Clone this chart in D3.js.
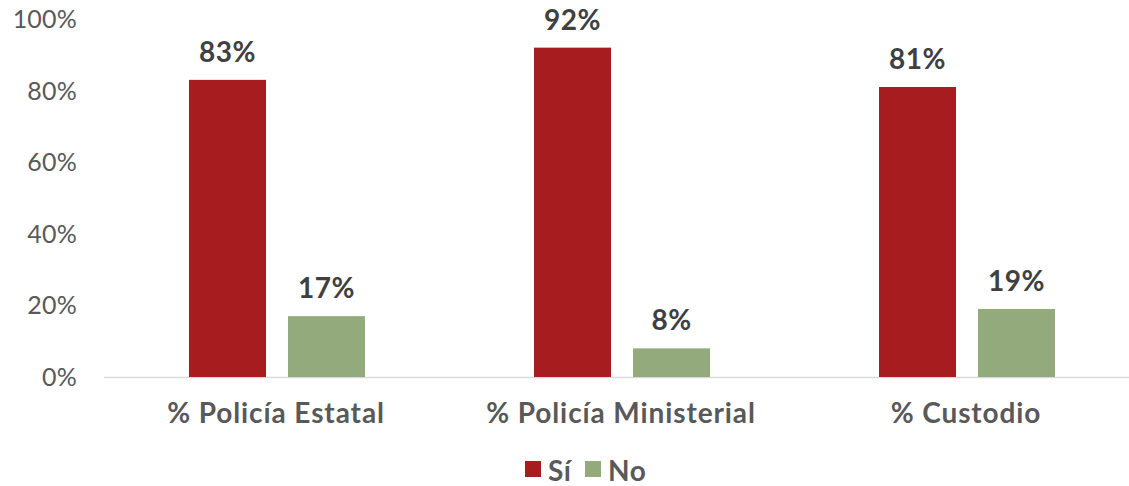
<!DOCTYPE html>
<html><head><meta charset="utf-8">
<script src="https://cdn.jsdelivr.net/npm/d3@7"></script>
<style>body{margin:0;background:#fff}svg{display:block}text{font-family:Lato,"DejaVu Sans",sans-serif}</style>
</head><body><svg id="c" width="1129" height="486"></svg>
<script>
const categories = ["% Policía Estatal", "% Policía Ministerial", "% Custodio"];
const seriesNames = ["Sí", "No"];
const siValues = [83, 92, 81];
const noValues = [17, 8, 19];
const yTicks = [0, 20, 40, 60, 80, 100];
const colors = ["#A61C1F", "#93AA7D"];

const svg = d3.select("#c");
const x0 = d3.scaleBand().domain(categories).range([103.5, 1138.5]).paddingInner(0).paddingOuter(0);
const y = d3.scaleLinear().domain([0, 100]).range([377, 19]);
const x1 = d3.scaleBand().domain(seriesNames).range([85.5, 85.5 + 176]).paddingInner(22 / 99).paddingOuter(0);

const data = categories.map((c, i) => ({cat: c, vals: [siValues[i], noValues[i]]}));

// y tick labels
svg.append("g").selectAll("text").data(yTicks).join("text")
  .attr("x", 77).attr("y", d => y(d)).attr("dy", "0.36em")
  .attr("text-anchor", "end").attr("font-size", 25).attr("font-weight", 400).attr("fill", "#595959")
  .attr("letter-spacing", 0.2)
  .text(d => d + "%");

// axis line
svg.append("line").attr("x1", 104).attr("x2", 1129).attr("y1", y(0) + 0.5).attr("y2", y(0) + 0.5)
  .attr("stroke", "#D9D9D9").attr("stroke-width", 1.5);

const g = svg.append("g").selectAll("g").data(data).join("g")
  .attr("transform", d => `translate(${x0(d.cat)},0)`);

g.selectAll("rect").data(d => d.vals.map((v, j) => ({s: seriesNames[j], v, j}))).join("rect")
  .attr("x", d => x1(d.s)).attr("width", x1.bandwidth())
  .attr("y", d => y(d.v)).attr("height", d => y(0) - y(d.v))
  .attr("fill", d => colors[d.j]);

g.selectAll("text.v").data(d => d.vals.map((v, j) => ({s: seriesNames[j], v, j}))).join("text")
  .attr("class", "v")
  .attr("x", d => x1(d.s) + x1.bandwidth() / 2).attr("y", d => y(d.v) - 18)
  .attr("text-anchor", "middle").attr("font-size", 28).attr("font-weight", "bold").attr("fill", "#404040")
  .attr("letter-spacing", 0.5)
  .text(d => d.v + "%");

svg.append("g").selectAll("text").data(categories).join("text")
  .attr("x", d => x0(d) + x0.bandwidth() / 2).attr("y", 423)
  .attr("text-anchor", "middle").attr("font-size", 28).attr("font-weight", "bold").attr("fill", "#595959")
  .attr("letter-spacing", 0.9)
  .text(d => d);

// legend
const legX = [525, 585];
const lg = svg.append("g").selectAll("g").data(seriesNames).join("g")
  .attr("transform", (d, i) => `translate(${legX[i]},0)`);
lg.append("rect").attr("x", 0).attr("y", 461).attr("width", 16).attr("height", 16).attr("fill", (d, i) => colors[i]);
lg.append("text").attr("x", 23).attr("y", 481).attr("font-size", 28).attr("font-weight", "bold").attr("fill", "#595959")
  .attr("letter-spacing", 0.5).text(d => d);
</script></body></html>
